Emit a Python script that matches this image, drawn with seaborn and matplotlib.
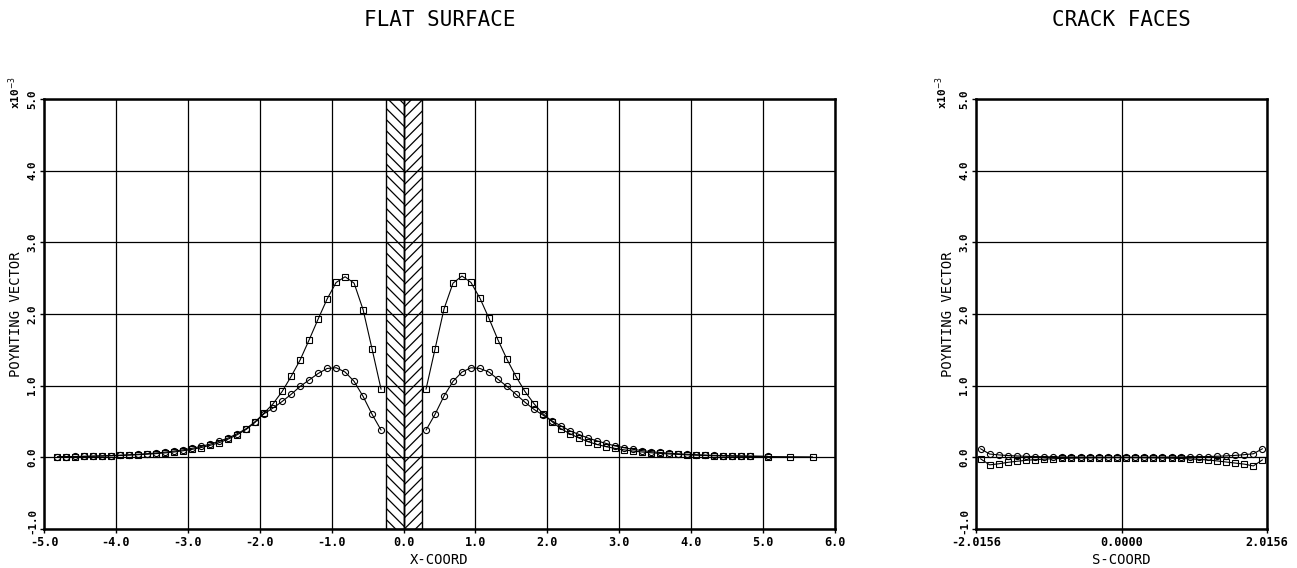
import matplotlib
matplotlib.use('Agg')
import matplotlib.pyplot as plt
import matplotlib.transforms as mtransforms
import seaborn as sns

# ---- data (values in units of 1e-3) ----
X_LEFT = [-4.8125, -4.6875, -4.5625, -4.4375, -4.3125, -4.1875, -4.0625, -3.9375,
          -3.8125, -3.6875, -3.5625, -3.4375, -3.3125, -3.1875, -3.0625, -2.9375,
          -2.8125, -2.6875, -2.5625, -2.4375, -2.3125, -2.1875, -2.0625, -1.9375,
          -1.8125, -1.6875, -1.5625, -1.4375, -1.3125, -1.1875, -1.0625, -0.9375,
          -0.8125, -0.6875, -0.5625, -0.4375, -0.3125]
SQUARE_LEFT = [0.006, 0.008, 0.010, 0.012, 0.015, 0.018, 0.022, 0.026,
               0.031, 0.037, 0.044, 0.052, 0.062, 0.075, 0.092, 0.112,
               0.137, 0.168, 0.205, 0.255, 0.315, 0.39, 0.49, 0.62,
               0.75, 0.92, 1.13, 1.36, 1.64, 1.93, 2.21, 2.44,
               2.52, 2.43, 2.06, 1.51, 0.95]
CIRCLE_LEFT = [0.008, 0.010, 0.012, 0.015, 0.018, 0.021, 0.025, 0.030,
               0.036, 0.043, 0.051, 0.061, 0.073, 0.088, 0.105, 0.127,
               0.153, 0.185, 0.225, 0.27, 0.33, 0.40, 0.50, 0.61,
               0.69, 0.78, 0.88, 0.99, 1.08, 1.17, 1.24, 1.25,
               1.19, 1.06, 0.85, 0.60, 0.38]

X_RIGHT_CIRCLE = [0.3125, 0.4375, 0.5625, 0.6875, 0.8125, 0.9375, 1.0625, 1.1875,
                  1.3125, 1.4375, 1.5625, 1.6875, 1.8125, 1.9375, 2.0625, 2.1875,
                  2.3125, 2.4375, 2.5625, 2.6875, 2.8125, 2.9375, 3.0625, 3.1875,
                  3.3125, 3.4375, 3.5625, 3.6875, 3.8125, 3.9375, 4.0625, 4.1875,
                  4.3125, 4.4375, 4.5625, 4.6875, 4.8125, 5.0625]
CIRCLE_RIGHT = [0.38, 0.60, 0.855, 1.06, 1.19, 1.25, 1.24, 1.19,
                1.09, 0.99, 0.88, 0.77, 0.67, 0.59, 0.51, 0.44,
                0.37, 0.32, 0.27, 0.23, 0.195, 0.16, 0.135, 0.112,
                0.094, 0.08, 0.068, 0.058, 0.05, 0.043, 0.037, 0.032,
                0.028, 0.025, 0.022, 0.02, 0.018, 0.015]
X_RIGHT_SQUARE = X_RIGHT_CIRCLE + [5.375, 5.6875]
SQUARE_RIGHT = [0.95, 1.51, 2.07, 2.43, 2.53, 2.44, 2.22, 1.94,
                1.64, 1.37, 1.13, 0.92, 0.75, 0.61, 0.50, 0.40,
                0.33, 0.27, 0.22, 0.18, 0.15, 0.125, 0.105, 0.088,
                0.075, 0.064, 0.055, 0.047, 0.041, 0.035, 0.030, 0.026,
                0.022, 0.019, 0.017, 0.015, 0.013, 0.011, 0.008, 0.006]

X_CRACK = [-1.953, -1.827, -1.701, -1.575, -1.449, -1.323, -1.197, -1.071,
           -0.945, -0.819, -0.693, -0.567, -0.441, -0.315, -0.189, -0.063,
           0.063, 0.189, 0.315, 0.441, 0.567, 0.693, 0.819, 0.945,
           1.071, 1.197, 1.323, 1.449, 1.575, 1.701, 1.827, 1.953]
CIRCLE_CRACK = [0.12, 0.046, 0.034, 0.025, 0.019, 0.014, 0.011, 0.008,
                0.006, 0.005, 0.004, 0.003, 0.003, 0.002, 0.002, 0.002,
                0.002, 0.002, 0.002, 0.003, 0.003, 0.004, 0.005, 0.006,
                0.008, 0.011, 0.015, 0.02, 0.027, 0.037, 0.05, 0.12]
SQUARE_CRACK = [-0.02, -0.105, -0.09, -0.07, -0.055, -0.042, -0.032, -0.025,
                -0.019, -0.015, -0.012, -0.01, -0.008, -0.007, -0.006, -0.005,
                -0.005, -0.006, -0.007, -0.008, -0.01, -0.012, -0.016, -0.021,
                -0.028, -0.037, -0.05, -0.065, -0.08, -0.095, -0.12, -0.035]

Y_TICKS = [-1, 0, 1, 2, 3, 4, 5]
Y_TICK_LABELS = ['-1.0', '0.0', '1.0', '2.0', '3.0', '4.0', '5.0']
X_TICKS_FLAT = [-5, -4, -3, -2, -1, 0, 1, 2, 3, 4, 5, 6]
X_TICK_LABELS_FLAT = ['-5.0', '-4.0', '-3.0', '-2.0', '-1.0', '0.0',
                      '1.0', '2.0', '3.0', '4.0', '5.0', '6.0']
X_TICKS_CRACK = [-2.0156, 0.0, 2.0156]
X_TICK_LABELS_CRACK = ['-2.0156', '0.0000', '2.0156']
CRACK_HALF_WIDTH = 0.25

sns.set_theme(style='ticks')
plt.rcParams['font.family'] = ['DejaVu Sans Mono', 'DejaVu Sans']
plt.rcParams['mathtext.fontset'] = 'dejavusans'
plt.rcParams['hatch.linewidth'] = 0.9
plt.rcParams['hatch.color'] = 'black'
for key in ('text.color', 'axes.labelcolor', 'xtick.color', 'ytick.color',
            'xtick.labelcolor', 'ytick.labelcolor'):
    plt.rcParams[key] = 'black'

W, H = 1297, 568
fig = plt.figure(figsize=(W / 100, H / 100), dpi=100)
fig.patch.set_facecolor('white')
ax1 = fig.add_axes([44 / W, 39 / H, 791 / W, 430 / H])
ax2 = fig.add_axes([976 / W, 39 / H, 291 / W, 430 / H])


def draw_series(ax, x, y, marker, ms):
    sns.lineplot(x=x, y=y, ax=ax, color='black', lw=0.8, marker=marker,
                 markersize=ms, markerfacecolor='none', markeredgecolor='black',
                 markeredgewidth=0.8, estimator=None, sort=False, zorder=3)


def style_axes(ax, xlim, xticks, xticklabels, xlabel, title, exp_dx):
    ax.set_facecolor('white')
    ax.set_xlim(*xlim)
    ax.set_ylim(-1, 5)
    ax.set_xticks(xticks)
    ax.set_xticklabels(xticklabels, fontsize=8.5, fontweight='bold')
    ax.set_yticks(Y_TICKS)
    ax.set_yticklabels(Y_TICK_LABELS, rotation=90, va='center',
                       fontsize=7.8, fontweight='bold')
    ax.tick_params(direction='out', length=3, width=1, color='black', pad=2)
    # lowest y label sits a bit higher so it clears the x tick labels
    lab = ax.get_yticklabels()[0]
    lab.set_transform(lab.get_transform() + mtransforms.ScaledTranslation(
        0, 6 / 72, fig.dpi_scale_trans))
    ax.grid(True, color='black', lw=0.9)
    ax.set_axisbelow(True)
    for s in ax.spines.values():
        s.set_color('black')
        s.set_linewidth(1.8)
    ax.set_xlabel(xlabel, fontsize=10, labelpad=3)
    ax.set_ylabel('POYNTING VECTOR', fontsize=10, labelpad=3)
    ax.text(0.5, 1.184, title, transform=ax.transAxes, ha='center',
            va='center', fontsize=15)
    ax.annotate('x10$^{-3}$', xy=(0, 1), xycoords='axes fraction',
                xytext=(exp_dx, 5), textcoords='offset points', rotation=90,
                ha='center', va='center', fontsize=8, fontweight='bold')


# FLAT SURFACE panel, crack mouth drawn as a herringbone-hatched band
ax1.axvspan(-CRACK_HALF_WIDTH, 0, facecolor='none', edgecolor='black',
            hatch='\\\\\\', lw=1, zorder=2)
ax1.axvspan(0, CRACK_HALF_WIDTH, facecolor='none', edgecolor='black',
            hatch='///', lw=1, zorder=2)
draw_series(ax1, X_LEFT, SQUARE_LEFT, 's', 4.6)
draw_series(ax1, X_LEFT, CIRCLE_LEFT, 'o', 4.4)
draw_series(ax1, X_RIGHT_SQUARE, SQUARE_RIGHT, 's', 4.6)
draw_series(ax1, X_RIGHT_CIRCLE, CIRCLE_RIGHT, 'o', 4.4)
style_axes(ax1, (-5, 6), X_TICKS_FLAT, X_TICK_LABELS_FLAT, 'X-COORD',
           'FLAT SURFACE', -21)

# CRACK FACES panel
draw_series(ax2, X_CRACK, SQUARE_CRACK, 's', 4.6)
draw_series(ax2, X_CRACK, CIRCLE_CRACK, 'o', 4.4)
style_axes(ax2, (-2.0156, 2.0156), X_TICKS_CRACK, X_TICK_LABELS_CRACK,
           'S-COORD', 'CRACK FACES', -25)

fig.savefig('out.png', dpi=100, facecolor='white')
